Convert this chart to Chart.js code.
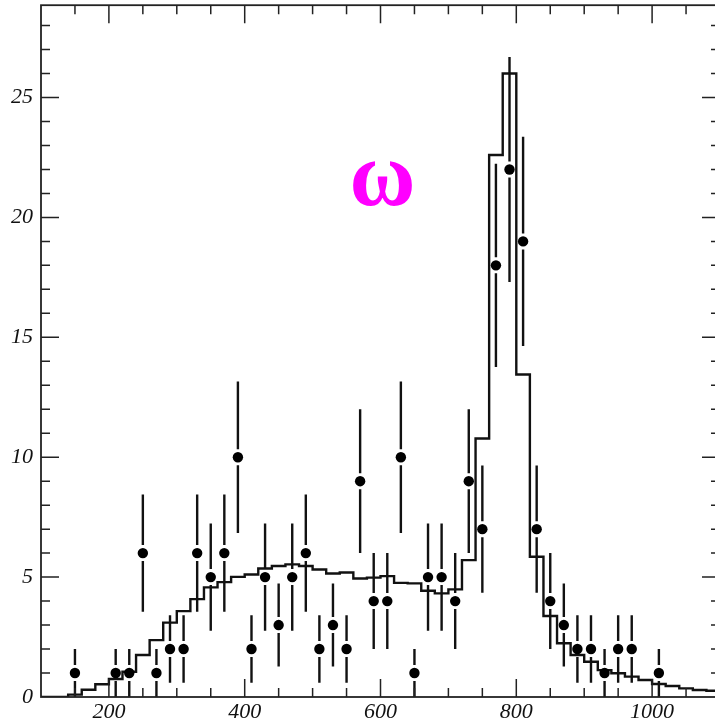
<!DOCTYPE html>
<html>
<head>
<meta charset="utf-8">
<script src="https://cdn.jsdelivr.net/npm/chart.js@4.4.1/dist/chart.umd.min.js"></script>
<style>
  html, body { margin: 0; padding: 0; overflow: hidden; background: #fff; }
</style>
</head>
<body>
<canvas id="grafico" width="730" height="725"></canvas>
<script>
// data points (bin centres) and counts
const dataX = [150,210,230,250,270,290,310,330,350,370,390,410,430,450,470,490,510,530,550,570,590,610,630,650,670,690,710,730,750,770,790,810,830,850,870,890,910,930,950,970,1010];
const dataY = [1,1,1,6,1,2,2,6,5,6,10,2,5,3,5,6,2,3,2,9,4,4,10,1,5,5,4,9,7,18,22,19,7,4,3,2,2,1,2,2,1];
const dataErr = [1,1,1,2.45,1,1.41,1.41,2.45,2.24,2.45,3.16,1.41,2.24,1.73,2.24,2.45,1.41,1.73,1.41,3,2,2,3.16,1,2.24,2.24,2,3,2.65,4.24,4.69,4.36,2.65,2,1.73,1.41,1.41,1,1.41,1.41,1];

// simulated histogram, left edges of 20 MeV bins
const mcEdges = [140,160,180,200,220,240,260,280,300,320,340,360,380,400,420,440,460,480,500,520,540,560,580,600,620,640,660,680,700,720,740,760,780,800,820,840,860,880,900,920,940,960,980,1000,1020,1040,1060,1080];
const mcCounts = [0.1,0.3,0.53,0.75,1.05,1.75,2.37,3.1,3.58,4.08,4.57,4.79,5.01,5.11,5.36,5.46,5.53,5.46,5.32,5.15,5.19,4.94,4.98,5.04,4.76,4.74,4.43,4.32,4.49,5.71,10.78,22.6,26.0,13.45,5.85,3.38,2.24,1.75,1.47,1.12,0.99,0.85,0.71,0.54,0.46,0.36,0.29,0.26];

const xLabels = [200,400,600,800,1000];
const yLabels = [0,5,10,15,20,25];

// histogram points for stepped line
let histo = [{x: 100, y: 0}];
for (let i = 0; i < mcEdges.length; i++) histo.push({x: mcEdges[i], y: mcCounts[i]});
histo.push({x: 1100, y: mcCounts[mcCounts.length - 1]});

let pontos = dataX.map((v, i) => ({x: v, y: dataY[i]}));

// frame, inward ticks, error bars, omega label
const moldura = {
  id: 'moldura',
  beforeDatasetsDraw(chart) {
    const c = chart.ctx, xs = chart.scales.x, ys = chart.scales.y;
    c.save();
    c.strokeStyle = '#111';
    c.lineWidth = 2.4;
    c.lineCap = 'butt';
    for (let i = 0; i < dataX.length; i++) {
      const px = xs.getPixelForValue(dataX[i]);
      const py = ys.getPixelForValue(dataY[i]);
      const top = ys.getPixelForValue(dataY[i] + dataErr[i]);
      const bot = ys.getPixelForValue(Math.max(0, dataY[i] - dataErr[i]));
      c.beginPath();
      if (py - 8 > top) { c.moveTo(px, top); c.lineTo(px, py - 8); }
      if (py + 8 < bot) { c.moveTo(px, py + 8); c.lineTo(px, bot); }
      c.stroke();
    }
    c.restore();
  },
  afterDraw(chart) {
    const c = chart.ctx, a = chart.chartArea, xs = chart.scales.x, ys = chart.scales.y;
    c.save();
    c.strokeStyle = '#222';
    c.lineWidth = 1.8;
    c.strokeRect(a.left, a.top, a.right - a.left, a.bottom - a.top);
    c.lineWidth = 1.5;
    c.beginPath();
    for (let v = 150; v < 1100; v += 50) {
      const px = xs.getPixelForValue(v);
      const len = v % 200 === 0 ? 18 : 9;
      c.moveTo(px, a.bottom); c.lineTo(px, a.bottom - len);
      c.moveTo(px, a.top); c.lineTo(px, a.top + len);
    }
    for (let v = 1; v <= 28; v++) {
      const py = ys.getPixelForValue(v);
      const len = v % 5 === 0 ? 18 : 9;
      c.moveTo(a.left, py); c.lineTo(a.left + len, py);
      c.moveTo(a.right, py); c.lineTo(a.right - len, py);
    }
    c.stroke();

    // omega
    c.fillStyle = '#ff00ff';
    c.font = 'bold 94px "Liberation Serif"';
    c.textAlign = 'center';
    c.textBaseline = 'alphabetic';
    c.translate(xs.getPixelForValue(603), ys.getPixelForValue(20.5));
    c.scale(0.96, 1);
    c.fillText('\u03c9', 0, 0);
    c.restore();
  }
};

let grafico = new Chart(document.getElementById('grafico').getContext('2d'), {
  type: 'scatter',
  data: {
    datasets: [{
      label: 'dados',
      data: pontos,
      pointRadius: 5.2,
      pointBackgroundColor: '#000',
      pointBorderWidth: 0,
      showLine: false
    }, {
      label: 'MC',
      data: histo,
      showLine: true,
      stepped: 'before',
      borderColor: '#111',
      borderWidth: 2.4,
      pointRadius: 0,
      fill: false
    }]
  },
  plugins: [moldura],
  options: {
    responsive: false,
    animation: false,
    layout: {padding: {top: 4, right: 10, left: 0, bottom: 0}},
    plugins: {legend: {display: false}, tooltip: {enabled: false}},
    scales: {
      x: {
        type: 'linear', min: 100, max: 1100,
        grid: {display: false, drawTicks: false},
        border: {display: false},
        afterFit: s => { s.height = 28; s.paddingLeft = 0; s.paddingRight = 0; },
        afterBuildTicks: s => { s.ticks = xLabels.map(v => ({value: v})); },
        ticks: {
          autoSkip: false, maxRotation: 0, padding: 2, color: '#111',
          callback: v => String(v),
          font: {family: '"Liberation Serif"', size: 22, style: 'italic'}
        }
      },
      y: {
        type: 'linear', min: 0, max: 28.85,
        grid: {display: false, drawTicks: false},
        border: {display: false},
        afterFit: s => { s.width = 41; s.paddingTop = 0; s.paddingBottom = 0; },
        afterBuildTicks: s => { s.ticks = yLabels.map(v => ({value: v})); },
        ticks: {
          padding: 8, color: '#111',
          callback: v => String(v),
          font: {family: '"Liberation Serif"', size: 22, style: 'italic'}
        }
      }
    }
  }
});
</script>
</body>
</html>
